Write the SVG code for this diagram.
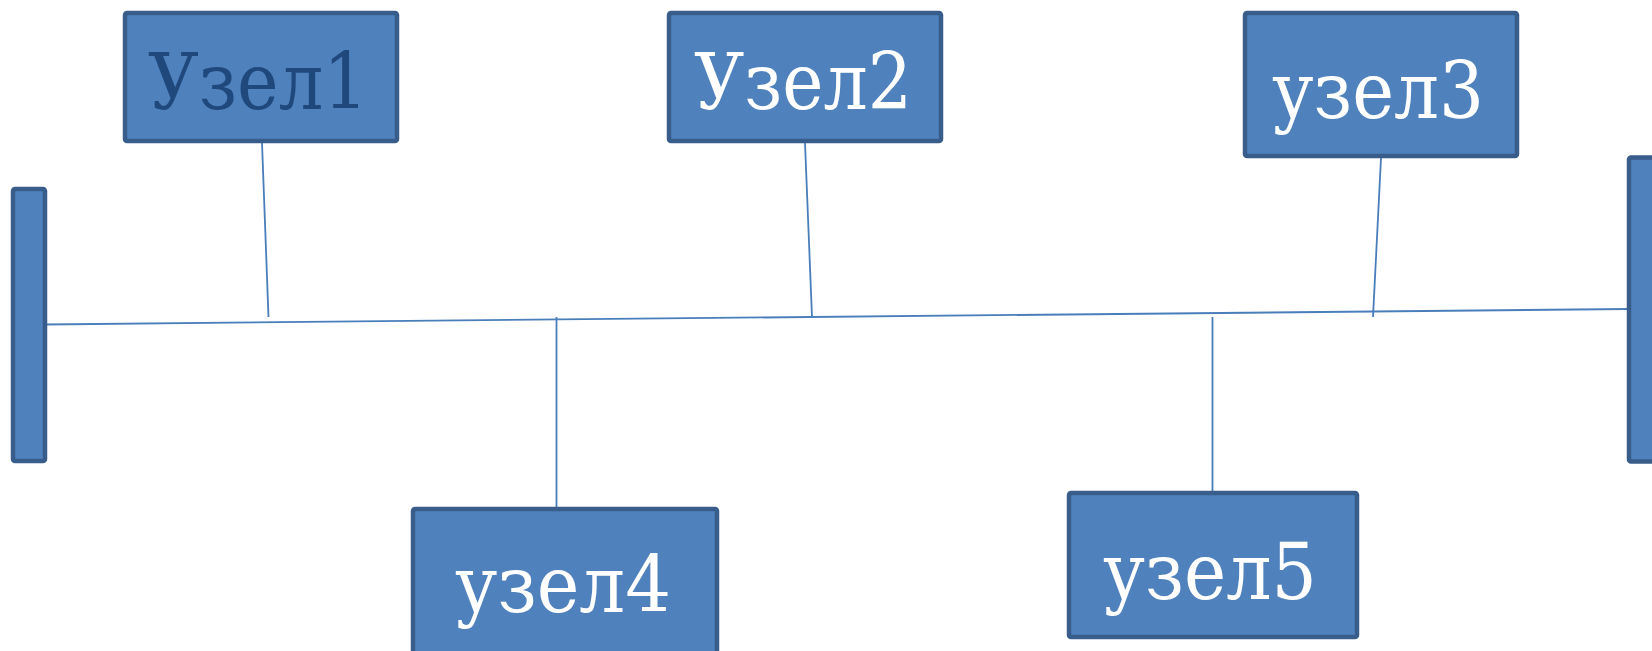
<svg xmlns="http://www.w3.org/2000/svg" width="1652" height="651" viewBox="0 0 1652 651">
  <style>
    .box { fill: #4f81bd; stroke: #385d8a; stroke-width: 4.5; }
    .lbl { font-family: "DejaVu Serif", "Liberation Serif", serif; font-size: 78px; fill: #ffffff; text-anchor: middle; }
    .lbl.dark { fill: #1f497d; }
    .wire { stroke: #4a7ebb; stroke-width: 1.8; fill: none; }
  </style>
  <rect width="1652" height="651" fill="#ffffff"/>

  <!-- bus and drops -->
  <g id="connectors">
    <line class="wire" x1="45" y1="324.5" x2="1628" y2="309"/>
    <line class="wire" x1="262" y1="143" x2="268.5" y2="317"/>
    <line class="wire" x1="805" y1="143" x2="812" y2="317"/>
    <line class="wire" x1="1381" y1="158" x2="1373" y2="317"/>
    <line class="wire" x1="556.5" y1="317" x2="556.5" y2="523"/>
    <line class="wire" x1="1212.5" y1="317" x2="1212.5" y2="493"/>
  </g>

  <!-- bus terminators -->
  <g id="term-left">
    <rect class="box" x="13" y="189" width="32" height="272" rx="2"/>
  </g>
  <g id="term-right">
    <rect class="box" x="1629" y="157.5" width="40" height="304" rx="2"/>
  </g>

  <g id="node1">
    <rect class="box" x="125" y="13" width="272" height="128" rx="2"/>
    <text class="lbl dark" x="258" y="109" textLength="220" lengthAdjust="spacingAndGlyphs">Узел1</text>
  </g>
  <g id="node2">
    <rect class="box" x="669" y="13" width="272" height="128" rx="2"/>
    <text class="lbl" x="803" y="109" textLength="218" lengthAdjust="spacingAndGlyphs">Узел2</text>
  </g>
  <g id="node3">
    <rect class="box" x="1245" y="13" width="272" height="143" rx="2"/>
    <text class="lbl" x="1378" y="118" textLength="212" lengthAdjust="spacingAndGlyphs">узел3</text>
  </g>
  <g id="node4">
    <rect class="box" x="413" y="509" width="304" height="160" rx="2"/>
    <text class="lbl" x="563" y="612" textLength="216" lengthAdjust="spacingAndGlyphs">узел4</text>
  </g>
  <g id="node5">
    <rect class="box" x="1069" y="493" width="288" height="144" rx="2"/>
    <text class="lbl" x="1210" y="599" textLength="214" lengthAdjust="spacingAndGlyphs">узел5</text>
  </g>
</svg>
